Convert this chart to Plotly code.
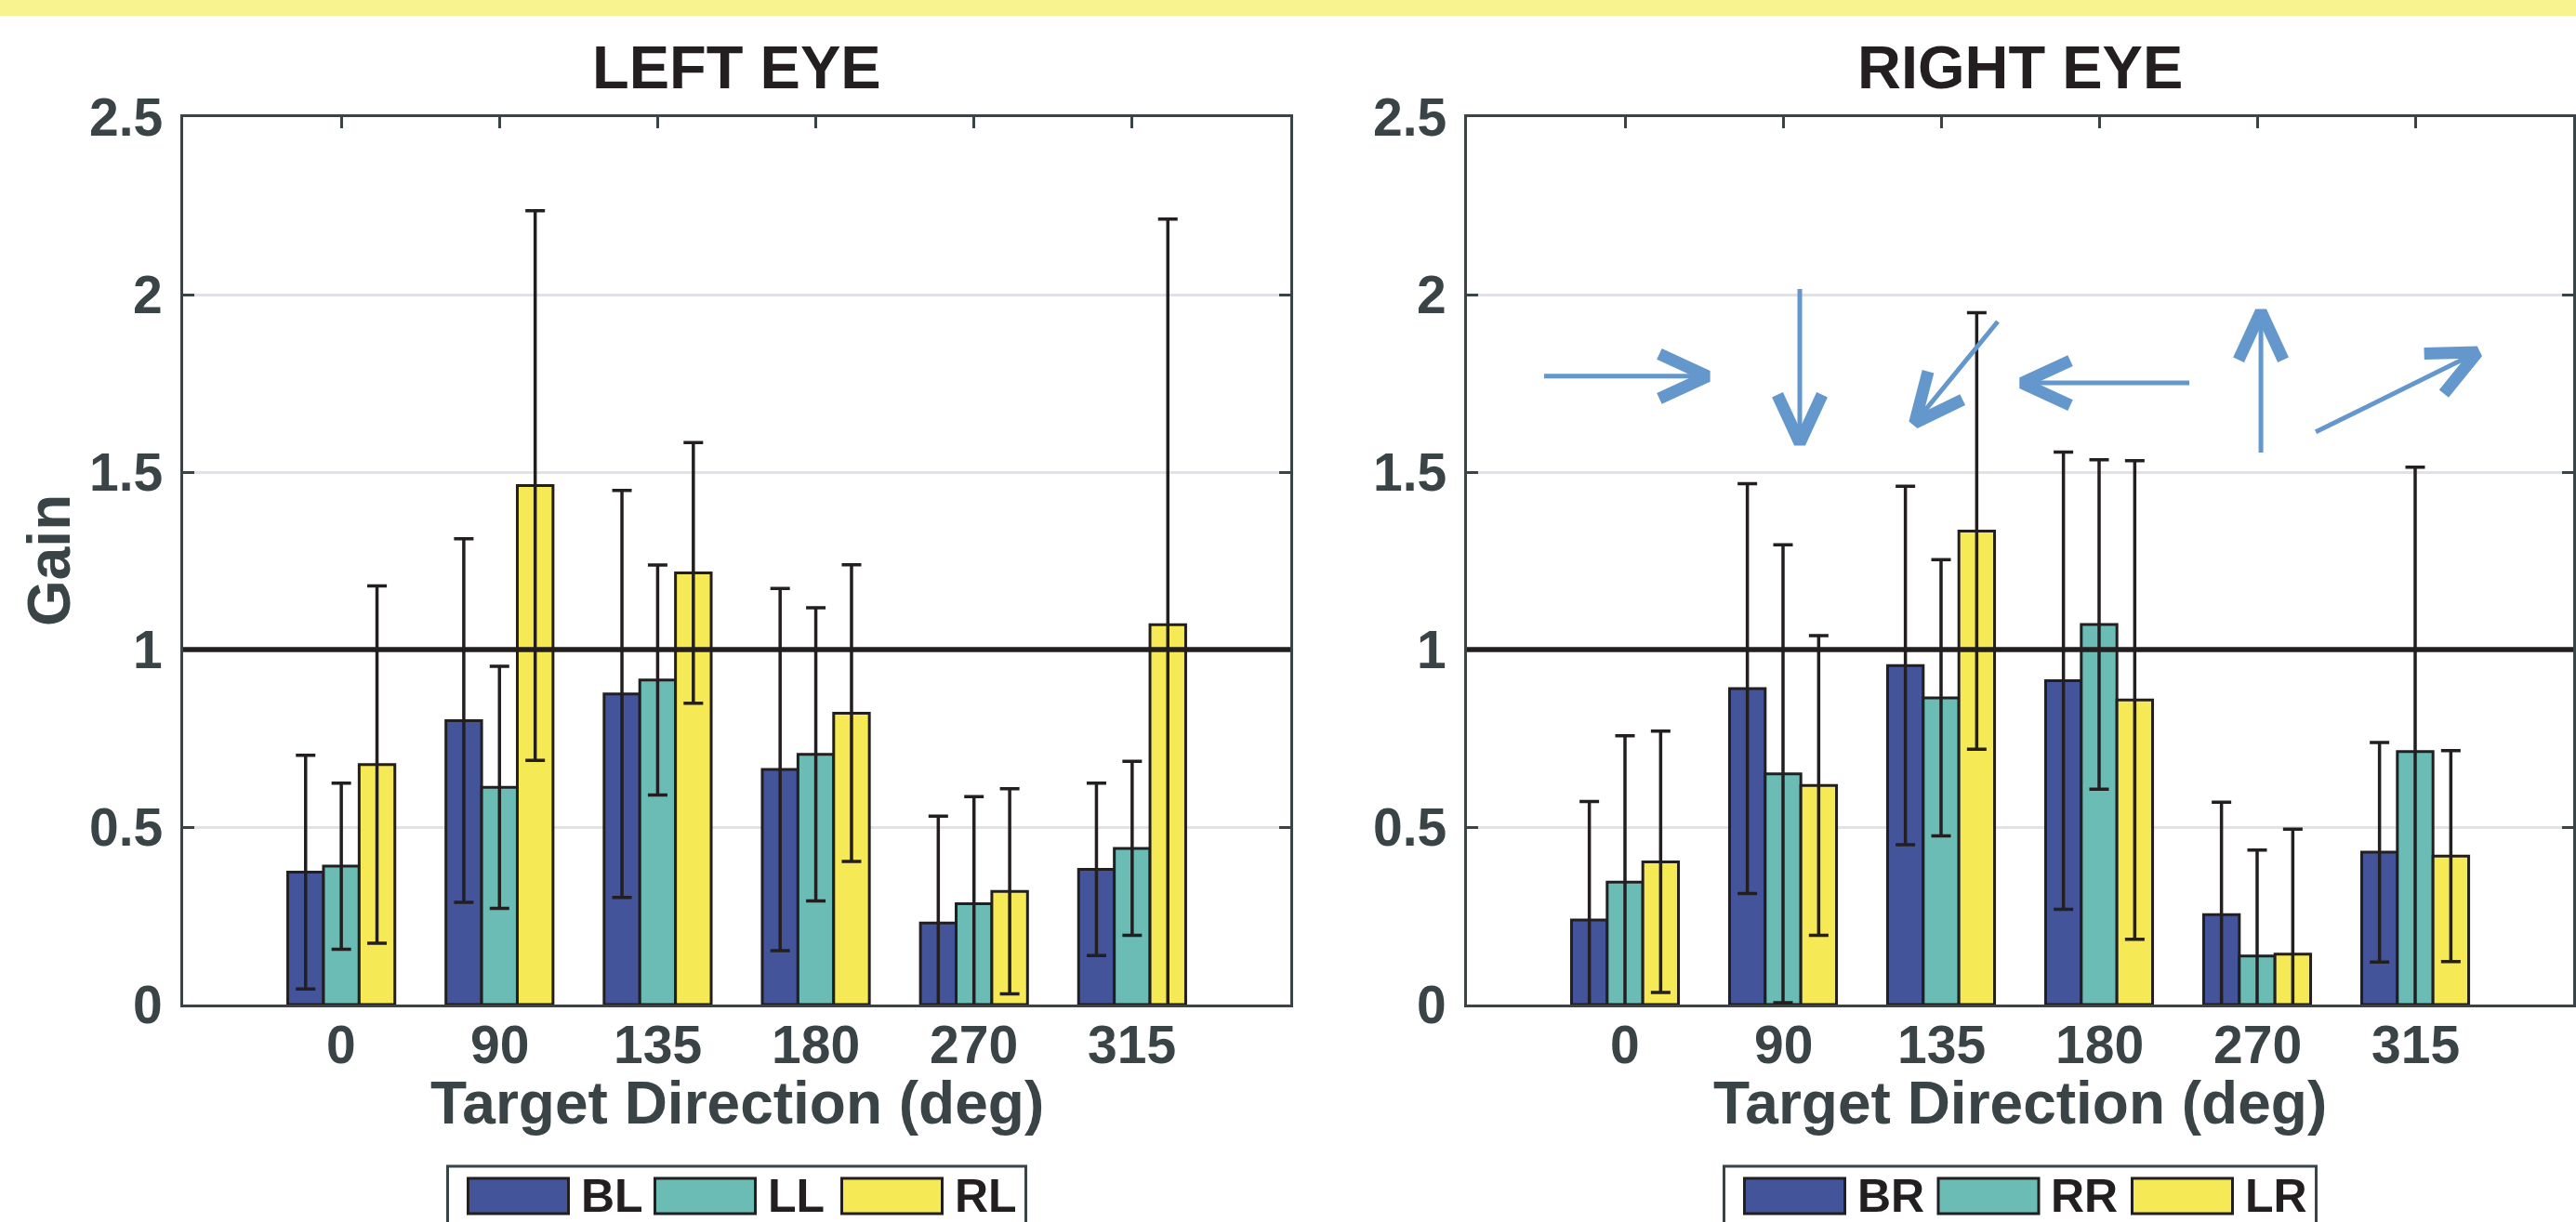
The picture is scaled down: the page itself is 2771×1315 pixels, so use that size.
import math
import plotly.graph_objects as go

W, H = 2771, 1315

# ---- data -------------------------------------------------------------
directions = ["0", "90", "135", "180", "270", "315"]
positions = [1, 2, 3, 4, 5, 6]
gain_ticks = [0, 0.5, 1, 1.5, 2, 2.5]
gain_labels = ["0", "0.5", "1", "1.5", "2", "2.5"]

left_names = ["BL", "LL", "RL"]
left_BL = [0.373, 0.800, 0.875, 0.662, 0.230, 0.381]
left_BL_err = [0.329, 0.512, 0.573, 0.510, 0.301, 0.243]
left_LL = [0.390, 0.612, 0.914, 0.705, 0.284, 0.440]
left_LL_err = [0.234, 0.341, 0.324, 0.413, 0.302, 0.245]
left_RL = [0.676, 1.462, 1.216, 0.821, 0.319, 1.070]
left_RL_err = [0.503, 0.774, 0.367, 0.418, 0.289, 1.143]

right_names = ["BR", "RR", "LR"]
right_BR = [0.238, 0.890, 0.955, 0.912, 0.253, 0.429]
right_BR_err = [0.334, 0.577, 0.505, 0.644, 0.317, 0.309]
right_RR = [0.345, 0.650, 0.864, 1.071, 0.137, 0.713]
right_RR_err = [0.412, 0.645, 0.389, 0.464, 0.298, 0.801]
right_LR = [0.402, 0.617, 1.334, 0.858, 0.142, 0.418]
right_LR_err = [0.368, 0.422, 0.615, 0.674, 0.352, 0.297]

# direction arrows drawn over the right-eye panel (data units)
arrow_tail_x = [0.488, 2.106, 3.359, 4.571, 5.024, 5.371]
arrow_tail_y = [1.770, 2.016, 1.924, 1.751, 1.555, 1.613]
arrow_head_x = [1.576, 2.106, 2.800, 3.459, 5.024, 6.441]
arrow_head_y = [1.770, 1.558, 1.620, 1.751, 1.976, 1.848]

# ---- style ------------------------------------------------------------
series_colors = ["#44549A", "#6ABCB4", "#F5E955"]
edge = "#231F20"
axis_grey = "#3A4346"
grid_grey = "#E1E1E7"
arrow_blue = "#6497CB"
FONT = "Liberation Sans"

X_RANGE = [0, 7]
Y_RANGE = [0, 2.5]


def px(x):
    return x / W


def py(y):
    return 1 - y / H


left_dom = [px(197), px(1388)]
right_dom = [px(1578), px(2768)]
y_dom = [py(1081), py(126)]

fig = go.Figure()

panels = [
    ("x", "y", left_names, [left_BL, left_LL, left_RL],
     [left_BL_err, left_LL_err, left_RL_err]),
    ("x2", "y2", right_names, [right_BR, right_RR, right_LR],
     [right_BR_err, right_RR_err, right_LR_err]),
]

for xa, ya, names, vals, errs in panels:
    for name, v, e, c in zip(names, vals, errs, series_colors):
        fig.add_trace(go.Bar(
            x=positions, y=v, name=name, xaxis=xa, yaxis=ya,
            marker=dict(color=c, line=dict(color=edge, width=3)),
            error_y=dict(type="data", array=e, visible=True,
                         color=edge, thickness=3.5, width=10.5),
            showlegend=False,
        ))

# ---- arrows: thin shaft plus a bold open chevron at the head ----------
# pixels per data unit in the right panel, used to keep the chevron
# legs the same on-screen size whatever the arrow direction
sx = (right_dom[1] - right_dom[0]) * W / (X_RANGE[1] - X_RANGE[0])
sy = (y_dom[1] - y_dom[0]) * H / (Y_RANGE[1] - Y_RANGE[0])
LEG_BACK, LEG_SPREAD, TIP_INSET = 52, 24, 9

shaft_x, shaft_y, head_x, head_y = [], [], [], []
for tx, ty, hx, hy in zip(arrow_tail_x, arrow_tail_y,
                          arrow_head_x, arrow_head_y):
    ux, uy = (hx - tx) * sx, (hy - ty) * sy
    n = math.hypot(ux, uy)
    ux, uy = ux / n, uy / n
    nx, ny = -uy, ux
    vx = hx - TIP_INSET * ux / sx
    vy = hy - TIP_INSET * uy / sy
    shaft_x += [tx, vx, None]
    shaft_y += [ty, vy, None]
    l1x = vx + (-LEG_BACK * ux + LEG_SPREAD * nx) / sx
    l1y = vy + (-LEG_BACK * uy + LEG_SPREAD * ny) / sy
    l2x = vx + (-LEG_BACK * ux - LEG_SPREAD * nx) / sx
    l2y = vy + (-LEG_BACK * uy - LEG_SPREAD * ny) / sy
    head_x += [l1x, vx, l2x, None]
    head_y += [l1y, vy, l2y, None]

fig.add_trace(go.Scatter(x=shaft_x, y=shaft_y, mode="lines",
                         line=dict(color=arrow_blue, width=5),
                         xaxis="x2", yaxis="y2", showlegend=False,
                         hoverinfo="skip"))
fig.add_trace(go.Scatter(x=head_x, y=head_y, mode="lines",
                         line=dict(color=arrow_blue, width=13),
                         xaxis="x2", yaxis="y2", showlegend=False,
                         hoverinfo="skip"))

axis_common = dict(
    showline=True, linecolor=axis_grey, linewidth=3,
    ticks="inside", ticklen=12, tickwidth=3, tickcolor=axis_grey,
    mirror="ticks", layer="below traces", zeroline=False,
    automargin=False, showticklabels=False,
)

xcommon = dict(axis_common, range=X_RANGE, tickvals=positions,
               showgrid=False)
ycommon = dict(axis_common, range=Y_RANGE, tickvals=gain_ticks,
               showgrid=True, gridcolor=grid_grey, gridwidth=3)

fig.update_layout(
    width=W, height=H,
    margin=dict(l=0, r=0, t=0, b=0, autoexpand=False),
    paper_bgcolor="white", plot_bgcolor="white",
    barmode="group", bargap=0.323, bargroupgap=0,
    showlegend=False,
    xaxis=dict(xcommon, domain=left_dom, anchor="y"),
    yaxis=dict(ycommon, domain=y_dom, anchor="x"),
    xaxis2=dict(xcommon, domain=right_dom, anchor="y2"),
    yaxis2=dict(ycommon, domain=y_dom, anchor="x2"),
)

shapes = []
annotations = []
tickfont = dict(family=FONT, size=57, color=axis_grey, weight="bold")

# tick labels, placed a fixed distance off each axis
for xa, ya, dom in (("x", "y", left_dom), ("x2", "y2", right_dom)):
    for pos, lab in zip(positions, directions):
        annotations.append(dict(
            text=lab, xref=xa, yref="paper", x=pos, y=py(1124),
            xanchor="center", yanchor="middle", showarrow=False,
            font=tickfont))
    left_px = dom[0] * W
    for val, lab in zip(gain_ticks, gain_labels):
        annotations.append(dict(
            text=lab, xref="paper", yref=ya, x=px(left_px - 20), y=val,
            xanchor="right", yanchor="middle", showarrow=False,
            font=tickfont))

# banner strip along the top edge
shapes.append(dict(type="rect", xref="paper", yref="paper",
                   x0=0, x1=1, y0=py(17), y1=1.01,
                   fillcolor="#F8F38E", line=dict(width=0), layer="below"))

# unity-gain reference line
for xa, ya in (("x", "y"), ("x2", "y2")):
    shapes.append(dict(type="line", xref=f"{xa} domain", yref=ya,
                       x0=0, x1=1, y0=1, y1=1,
                       line=dict(color=edge, width=5.5), layer="above"))

# panel titles and axis titles
for title, dom in (("LEFT EYE", left_dom), ("RIGHT EYE", right_dom)):
    cx = (dom[0] + dom[1]) / 2
    annotations.append(dict(
        text=title, xref="paper", yref="paper", x=cx, y=py(72),
        xanchor="center", yanchor="middle", showarrow=False,
        font=dict(family=FONT, size=65, color=edge, weight="bold")))
    annotations.append(dict(
        text="Target Direction (deg)", xref="paper", yref="paper",
        x=cx, y=py(1187), xanchor="center", yanchor="middle",
        showarrow=False,
        font=dict(family=FONT, size=64, color=axis_grey, weight="bold")))

annotations.append(dict(
    text="Gain", xref="paper", yref="paper", x=px(53), y=py(603),
    xanchor="center", yanchor="middle", textangle=-90, showarrow=False,
    font=dict(family=FONT, size=64, color=axis_grey, weight="bold")))

# legends: boxed swatch + label rows centred under each panel
legend_specs = [
    (left_names, left_dom, 622, 201),
    (right_names, right_dom, 637, 208.5),
]
for names, dom, box_w, pitch in legend_specs:
    cx = (dom[0] + dom[1]) / 2 * W
    box_l = cx - box_w / 2
    shapes.append(dict(type="rect", xref="paper", yref="paper",
                       x0=px(box_l), x1=px(box_l + box_w),
                       y0=py(1340), y1=py(1255),
                       fillcolor="white",
                       line=dict(color=axis_grey, width=3)))
    for i, (name, c) in enumerate(zip(names, series_colors)):
        sxl = box_l + 22 + i * pitch
        shapes.append(dict(type="rect", xref="paper", yref="paper",
                           x0=px(sxl), x1=px(sxl + 108),
                           y0=py(1306), y1=py(1268),
                           fillcolor=c, line=dict(color=edge, width=3)))
        annotations.append(dict(
            text=name, xref="paper", yref="paper", x=px(sxl + 119),
            y=py(1287), xanchor="left", yanchor="middle", showarrow=False,
            font=dict(family=FONT, size=50, color=edge, weight="bold")))

fig.update_layout(shapes=shapes, annotations=annotations)

fig.write_html("out.html")
